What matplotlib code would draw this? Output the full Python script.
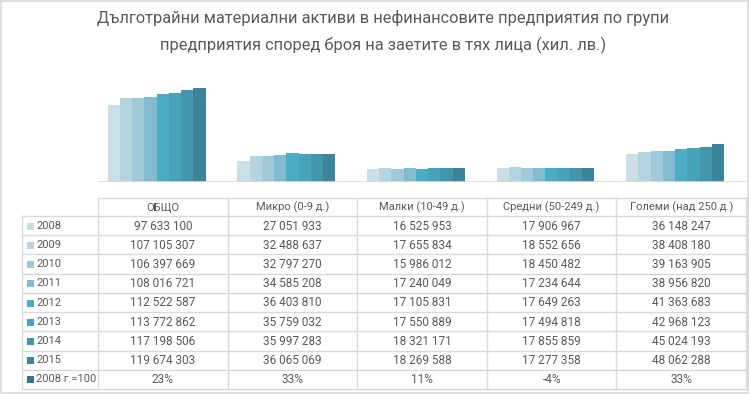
import matplotlib.pyplot as plt
from matplotlib.patches import Rectangle

plt.rcParams['font.family'] = ['Roboto', 'DejaVu Sans']

categories = ['ОБЩО', 'Микро (0-9 д.)', 'Малки (10-49 д.)', 'Средни (50-249 д.)', 'Големи (над 250 д.)']
series_names = ['2008', '2009', '2010', '2011', '2012', '2013', '2014', '2015', '2008 г.=100']
values = [
    [97633100, 27051933, 16525953, 17906967, 36148247],
    [107105307, 32488637, 17655834, 18552656, 38408180],
    [106397669, 32797270, 15986012, 18450482, 39163905],
    [108016721, 34585208, 17240049, 17234644, 38956820],
    [112522587, 36403810, 17105831, 17649263, 41363683],
    [113772862, 35759032, 17550889, 17494818, 42968123],
    [117198506, 35997283, 18321171, 17855859, 45024193],
    [119674303, 36065069, 18269588, 17277358, 48062288],
    [0.23, 0.33, 0.11, -0.04, 0.33],
]
colors = ['#c9dee7', '#b5d4e0', '#a0c9d9', '#82bbd0', '#4bacc6',
          '#47a3b9', '#4295ac', '#3c8499', '#357789']

title = ('Дълготрайни материални активи в нефинансовите предприятия по групи\n'
         'предприятия според броя на заетите в тях лица (хил. лв.)')

W, H = 749, 394
fig = plt.figure(figsize=(W / 100, H / 100), dpi=100)
txt = '#595959'
grid = '#d9d9d9'

# plot area in pixels
left, right, base, top = 98, 746, 182, 72
ax = fig.add_axes([left / W, 1 - base / H, (right - left) / W, (base - top) / H])
n = len(series_names)
bw = 1 / (n + 1.6)
for i, (name, vals) in enumerate(zip(series_names, values)):
    xs = [c - n * bw / 2 + (i + 0.5) * bw for c in range(len(categories))]
    ax.bar(xs, vals, width=bw, color=colors[i], linewidth=0)
ax.set_xlim(-0.5, len(categories) - 0.5)
ax.set_ylim(0, 140e6)
ax.axis('off')
ax.axhline(0, color=grid, lw=1.2)

fig.text(383 / W, 1 - 32 / H, title, ha='center', va='center', fontsize=11.8,
         color=txt, linespacing=1.8)

# data table
tab = fig.add_axes([0, 0, 1, 1])
tab.set_xlim(0, W)
tab.set_ylim(H, 0)
tab.axis('off')
tab.add_patch(Rectangle((0.5, 0.5), W - 1.5, H - 1.5, fill=False, ec=grid, lw=1.2))

colw = (right - left) / len(categories)
head_top, head_bot = 198, 216
rowh = (389 - head_bot) / n
tab_left = 22
bottom = head_bot + n * rowh
kw = dict(color=grid, lw=1)
tab.plot([left, right], [head_top, head_top], **kw)
for r in range(n + 1):
    y = head_bot + r * rowh
    tab.plot([tab_left, right], [y, y], **kw)
tab.plot([tab_left, tab_left], [head_bot, bottom], **kw)
for k in range(len(categories) + 1):
    x = left + k * colw
    tab.plot([x, x], [head_top, bottom], **kw)

for k, cat in enumerate(categories):
    tab.text(left + (k + 0.5) * colw, (head_top + head_bot) / 2 + 0.5, cat,
             ha='center', va='center', fontsize=8, color=txt)

for r, (name, vals) in enumerate(zip(series_names, values)):
    yc = head_bot + (r + 0.5) * rowh
    tab.add_patch(Rectangle((27, yc - 3), 7, 7, color=colors[r], lw=0))
    tab.text(36, yc, name, ha='left', va='center', fontsize=8, color=txt)
    for k, v in enumerate(vals):
        if name.startswith('2008 г.'):
            s = f'{round(v * 100)}%'
        else:
            s = f'{v:,}'.replace(',', ' ')
        tab.text(left + (k + 0.5) * colw, yc + 0.5, s, ha='center', va='center',
                 fontsize=8.5, color=txt)

fig.savefig('out.png', dpi=100)
